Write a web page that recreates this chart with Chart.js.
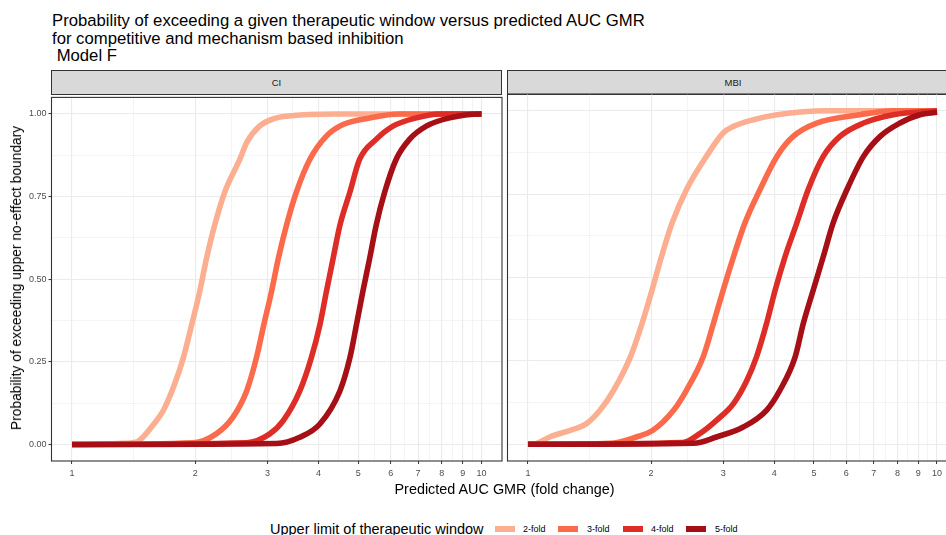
<!DOCTYPE html>
<html><head><meta charset="utf-8">
<script src="https://cdn.jsdelivr.net/npm/chart.js@4.4.0/dist/chart.umd.min.js"></script>
<style>
html,body{margin:0;padding:0;width:946px;height:535px;overflow:hidden;background:#fff;font-family:"Liberation Sans",Arial,sans-serif;}
.abs{position:absolute;white-space:nowrap;}
#title{left:52px;top:12px;font-size:16.7px;line-height:17.5px;color:#000;}
.strip{position:absolute;top:70px;height:25px;background:#D9D9D9;border:1.1px solid #333;box-sizing:border-box;font-size:9.5px;color:#1A1A1A;text-align:center;line-height:23px;}
#xtitle{left:504.5px;top:480.8px;font-size:14.4px;line-height:17px;transform:translateX(-50%);color:#000;}
#ytitle{left:17px;top:277.5px;font-size:13.8px;line-height:16px;transform:translate(-50%,-50%) rotate(-90deg);color:#000;}
#legtitle{left:270px;top:520.8px;font-size:14.5px;line-height:17px;color:#000;}
.key{position:absolute;top:526px;width:20px;height:6px;}
.klab{position:absolute;top:523.6px;font-size:9px;line-height:11px;color:#000;white-space:nowrap;}
canvas{position:absolute;}
</style>
</head><body>
<div id="title" class="abs">Probability of exceeding a given therapeutic window versus predicted AUC GMR<br>for competitive and mechanism based inhibition<br>&nbsp;Model F</div>
<div class="strip" style="left:51px;width:451px;">CI</div>
<div class="strip" style="left:507px;width:452px;">MBI</div>
<canvas id="c1" width="504" height="395" style="left:0px;top:90px;"></canvas>
<canvas id="c2" width="470" height="395" style="left:500px;top:90px;"></canvas>
<div id="xtitle" class="abs">Predicted AUC GMR (fold change)</div>
<div id="ytitle" class="abs">Probability of exceeding upper no-effect boundary</div>
<div id="legtitle" class="abs">Upper limit of therapeutic window</div>
<div class="key" style="left:495px;background:#FCAE91;"></div><div class="klab" style="left:523px;">2-fold</div>
<div class="key" style="left:558px;background:#FB6A4A;"></div><div class="klab" style="left:587px;">3-fold</div>
<div class="key" style="left:623px;background:#DE2D26;"></div><div class="klab" style="left:651px;">4-fold</div>
<div class="key" style="left:686px;background:#A50F15;"></div><div class="klab" style="left:715px;">5-fold</div>
<script>
// ---- data ----
const seriesNames = ['2-fold', '3-fold', '4-fold', '5-fold'];
const seriesColors = ['#FCAE91', '#FB6A4A', '#DE2D26', '#A50F15'];
const panelNames = ['CI', 'MBI'];

const ci2x = [1, 1.30, 1.44, 1.49, 1.58, 1.67, 1.78, 1.87, 1.96, 2.05, 2.13, 2.23, 2.36, 2.57, 2.67, 2.87, 3.10, 3.34, 4.4, 10];
const ci2y = [0, 0.003, 0.008, 0.022, 0.06, 0.102, 0.182, 0.262, 0.362, 0.462, 0.562, 0.663, 0.763, 0.863, 0.913, 0.963, 0.985, 0.993, 1, 1];
const ci3x = [1, 1.98, 2.25, 2.47, 2.67, 2.82, 2.94, 3.07, 3.19, 3.34, 3.53, 3.81, 4.18, 4.59, 5.33, 6.3, 10];
const ci3y = [0, 0.005, 0.032, 0.082, 0.162, 0.262, 0.362, 0.462, 0.562, 0.663, 0.763, 0.863, 0.933, 0.968, 0.988, 1, 1];
const ci4x = [1, 2.67, 3.04, 3.28, 3.60, 3.84, 4.03, 4.18, 4.34, 4.51, 4.77, 5.04, 5.53, 6.08, 6.93, 7.9, 10];
const ci4y = [0, 0.005, 0.032, 0.072, 0.162, 0.262, 0.362, 0.462, 0.562, 0.663, 0.763, 0.863, 0.923, 0.963, 0.988, 1, 1];
const ci5x = [1, 3.16, 3.60, 4.03, 4.51, 4.77, 4.95, 5.13, 5.33, 5.53, 5.80, 6.19, 6.67, 7.33, 8.36, 9.9, 10];
const ci5y = [0, 0.003, 0.022, 0.062, 0.162, 0.262, 0.362, 0.462, 0.562, 0.663, 0.763, 0.863, 0.923, 0.963, 0.988, 1, 1];

const mbi2x = [1, 1.05, 1.13, 1.27, 1.39, 1.50, 1.62, 1.78, 1.90, 2.01, 2.12, 2.25, 2.44, 2.73, 3.00, 3.18, 3.56, 4.06, 5.4, 10];
const mbi2y = [0, 0.003, 0.022, 0.042, 0.062, 0.102, 0.162, 0.262, 0.362, 0.462, 0.562, 0.663, 0.763, 0.863, 0.933, 0.953, 0.973, 0.988, 1, 1];
const mbi3x = [1, 1.59, 1.84, 2.02, 2.27, 2.44, 2.68, 2.84, 3.00, 3.18, 3.39, 3.69, 4.06, 4.45, 5.08, 6.48, 7.8, 10];
const mbi3y = [0, 0.003, 0.022, 0.042, 0.102, 0.162, 0.262, 0.362, 0.462, 0.562, 0.663, 0.763, 0.863, 0.923, 0.963, 0.988, 1, 1];
const mbi4x = [1, 2.39, 2.63, 2.89, 3.18, 3.43, 3.62, 3.83, 4.02, 4.25, 4.54, 4.84, 5.27, 5.79, 6.61, 7.82, 10];
const mbi4y = [0, 0.005, 0.032, 0.072, 0.122, 0.192, 0.262, 0.362, 0.462, 0.562, 0.663, 0.763, 0.863, 0.923, 0.963, 0.988, 1];
const mbi5x = [1, 2.54, 2.89, 3.36, 3.83, 4.13, 4.50, 4.71, 4.98, 5.27, 5.57, 6.02, 6.61, 7.26, 8.12, 9.08, 10];
const mbi5y = [0, 0.003, 0.022, 0.052, 0.102, 0.162, 0.262, 0.362, 0.462, 0.562, 0.663, 0.763, 0.863, 0.923, 0.963, 0.988, 0.995];

const xMajorTicks = [1, 2, 3, 4, 5, 6, 7, 8, 9, 10];
const xTickLabels = ['1', '2', '3', '4', '5', '6', '7', '8', '9', '10'];
const xMinorTicks = [1.414, 2.449, 3.464, 4.472, 5.477, 6.481, 7.483, 8.485, 9.487];
const yMajorTicks = [0, 0.25, 0.5, 0.75, 1];
const yTickLabels = ['0.00', '0.25', '0.50', '0.75', '1.00'];
const yMinorTicks = [0.125, 0.375, 0.625, 0.875];

// ---- chart building ----
Chart.defaults.font.family = '"Liberation Sans", Arial, sans-serif';

function pts(xs, ys) { return xs.map((x, i) => ({ x: x, y: ys[i] })); }

function tickList(major, minor) {
  const all = major.map(v => ({ value: v, minor: false })).concat(minor.map(v => ({ value: v, minor: true })));
  all.sort((a, b) => a.value - b.value);
  return all;
}

const borderPlugin = {
  id: 'panelBorder',
  afterDraw(chart) {
    const a = chart.chartArea, ctx = chart.ctx;
    ctx.save();
    ctx.strokeStyle = '#333333';
    ctx.lineWidth = 1.1;
    ctx.strokeRect(a.left, a.top, a.right - a.left, a.bottom - a.top);
    ctx.restore();
  }
};

function makeChart(id, seriesX, seriesY, showY, yWidth, padRight) {
  const datasets = seriesNames.map((n, i) => ({
    label: n,
    data: pts(seriesX[i], seriesY[i]),
    borderColor: seriesColors[i],
    backgroundColor: seriesColors[i],
    borderWidth: 5.6,
    pointRadius: 0,
    cubicInterpolationMode: 'monotone',
    fill: false,
    borderJoinStyle: 'round',
    borderCapStyle: 'butt',
    order: 4 - i
  }));
  const gridCommon = {
    color: '#EBEBEB',
    lineWidth: c => (c.tick && c.tick.minor) ? 0.55 : 1.1,
    tickColor: c => (c.tick && c.tick.minor) ? 'rgba(0,0,0,0)' : '#333333',
    tickWidth: 1,
    tickLength: 3
  };
  return new Chart(document.getElementById(id), {
    type: 'line',
    data: { datasets: datasets },
    plugins: [borderPlugin],
    options: {
      responsive: false,
      animation: false,
      layout: { padding: { top: 4, right: padRight, left: 0, bottom: 0 } },
      plugins: { legend: { display: false }, tooltip: { enabled: false } },
      scales: {
        x: {
          type: 'logarithmic',
          min: Math.pow(10, -0.05),
          max: Math.pow(10, 1.05),
          border: { display: false },
          grid: Object.assign({}, gridCommon),
          ticks: {
            autoSkip: false, maxRotation: 0, minRotation: 0,
            color: '#4D4D4D', font: { size: 9 }, padding: 4,
            major: { enabled: false },
            callback: function (v, i, t) { const k = xMajorTicks.indexOf(t[i].value); return k >= 0 ? xTickLabels[k] : ''; }
          },
          afterBuildTicks: s => { s.ticks = tickList(xMajorTicks, xMinorTicks); },
          afterFit: s => { s.height = 24; }
        },
        y: {
          type: 'linear',
          min: -0.05,
          max: 1.05,
          border: { display: false },
          grid: Object.assign({}, gridCommon, { drawTicks: showY }),
          ticks: {
            display: showY,
            autoSkip: false,
            color: '#4D4D4D', font: { size: 9 }, padding: 2,
            callback: function (v, i, t) { const k = yMajorTicks.indexOf(t[i].value); return k >= 0 ? yTickLabels[k] : ''; }
          },
          afterBuildTicks: s => { s.ticks = tickList(yMajorTicks, yMinorTicks); },
          afterFit: s => { s.width = yWidth; }
        }
      }
    }
  });
}

makeChart('c1', [ci2x, ci3x, ci4x, ci5x], [ci2y, ci3y, ci4y, ci5y], true, 51.5, 2);
makeChart('c2', [mbi2x, mbi3x, mbi4x, mbi5x], [mbi2y, mbi3y, mbi4y, mbi5y], false, 7.5, 12.5);
</script>
</body></html>
